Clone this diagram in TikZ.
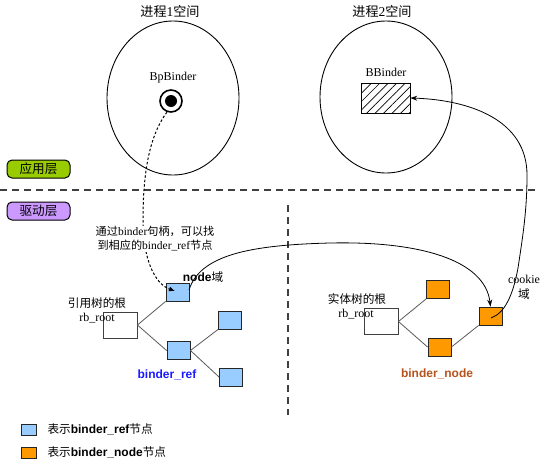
\documentclass[tikz,border=0pt]{standalone}
\usepackage{fontspec}
\setmainfont{Liberation Serif}
\setsansfont{Liberation Sans}
\newfontfamily\cjk[Scale=0.97]{Noto Sans CJK SC}
\newcommand\zh[1]{{\cjk #1}}
\usetikzlibrary{arrows.meta,patterns.meta}
\tikzset{>=latex}
\definecolor{refcol}{HTML}{99CCFF}
\definecolor{nodecol}{HTML}{FF9900}
\definecolor{appcol}{HTML}{99CC00}
\definecolor{drvcol}{HTML}{CC99FF}
\definecolor{refblue}{HTML}{1A1AFF}
\definecolor{nodebrown}{HTML}{B5531C}
\tikzset{
  nbox/.style={draw=black!85,line width=0.9pt,minimum width=23pt,minimum height=18pt,inner sep=0pt},
  refbox/.style={nbox,fill=refcol},
  nodebox/.style={nbox,fill=nodecol},
  rootbox/.style={draw=black!75,line width=0.9pt,minimum width=34pt,minimum height=26pt,inner sep=0pt},
  layer/.style={draw=black,line width=1pt,rounded corners=5pt,minimum width=63pt,minimum height=18pt,inner sep=0pt,
    font=\fontsize{13}{15}\selectfont},
  tline/.style={draw=black!65,line width=0.8pt},
  layersep/.style={black!75,line width=1.1pt,dash pattern=on 7pt off 5pt},
  boldlab/.style={font=\fontsize{12}{14}\selectfont\sffamily\bfseries},
  legbox/.style={draw=black!85,line width=0.9pt,minimum width=15pt,minimum height=11pt,inner sep=0pt},
}

\begin{document}
\begin{tikzpicture}[x=1pt,y=-1pt,font=\fontsize{12}{14}\selectfont]
  \useasboundingbox (0,0) rectangle (553,463);
  % process spaces
  \node[font=\fontsize{13.5}{15}\selectfont] (t1) at (170,11) {\zh{进程}1\zh{空间}};
  \node[font=\fontsize{13.5}{15}\selectfont] (t2) at (382,11) {\zh{进程}2\zh{空间}};
  \draw[line width=0.9pt] (173,98) ellipse [x radius=66, y radius=77];
  \draw[line width=0.9pt] (386,97) ellipse [x radius=66, y radius=76];
  \node (bpl) at (173,78) {BpBinder};
  \node[circle,draw,line width=1.6pt,minimum size=22pt,inner sep=0pt,fill=white] (bp) at (171,101) {};
  \fill (bp.center) circle[radius=6];
  \node (bbl) at (386,72) {BBinder};
  \node[draw,line width=0.9pt,minimum width=49pt,minimum height=30pt,
        pattern={Lines[angle=45,distance=6pt,line width=0.7pt]}] (bb) at (385.5,98) {};

  % layers
  \node[layer,fill=appcol] (app) at (38.5,169) {\zh{应用层}};
  \node[layer,fill=drvcol] (drv) at (38.5,211) {\zh{驱动层}};
  \coordinate (hl) at (0,190);
  \coordinate (hr) at (535,190);
  \draw[layersep] (hl) -- (hr);
  \coordinate (vt) at (288,205);
  \coordinate (vb) at (288,415);
  \draw[layersep] (vt) -- (vb);

  % binder_ref tree
  \node[rootbox] (lroot) at (120,325) {};
  \node (lrl) at (97,303) {\zh{引用树的根}};
  \node (lrr) at (97,318) {rb\_root};
  \node[refbox] (n1) at (177.5,292) {};
  \node[refbox] (n2) at (178.5,350.5) {};
  \node[refbox] (n3) at (230,320) {};
  \node[refbox] (n4) at (231,377) {};
  \draw[tline] (lroot.east) -- (n1.south west);
  \draw[tline] (lroot.east) -- (n2.west);
  \draw[tline] (n2.east) -- (n3.south west);
  \draw[tline] (n2.east) -- (n4.west);
  \node (nodel) at (203,277) {{\sffamily\bfseries node}\zh{域}};
  \node[boldlab,text=refblue] (refl) at (167,375) {binder\_ref};

  % binder_node tree
  \node[rootbox] (rroot) at (381,321.5) {};
  \node (rrl) at (357,299) {\zh{实体树的根}};
  \node (rrr) at (356,314) {rb\_root};
  \node[nodebox] (o1) at (438,289.5) {};
  \node[nodebox] (o2) at (439.5,347) {};
  \node[nodebox] (o3) at (490.5,316) {};
  \draw[tline] (rroot.east) -- (o1.south west);
  \draw[tline] (rroot.east) -- (o2.west);
  \draw[tline] (o2.east) -- (o3.south west);
  \node[boldlab,text=nodebrown] (nodl) at (437,374) {binder\_node};
  \node[align=center,font=\fontsize{12}{15}\selectfont] (ckl) at (524,287) {cookie\\\zh{域}};

  % handle -> binder_ref
  \coordinate (hd) at (175,291);
  \draw[dash pattern=on 2.5pt off 2pt,line width=1pt,-{Latex[length=6pt,width=5pt]}]
    (bp.250) .. controls (150,135) and (143,170) .. (143,220)
    .. controls (143,260) and (155,284) .. (hd);
  \node[fill=white,inner sep=1pt,align=center,font=\fontsize{11.5}{14}\selectfont] (hint) at (155,239)
    {\zh{通过}binder\zh{句柄，可以找}\\\zh{到相应的}binder\_ref\zh{节点}};

  % binder_ref -> binder_node
  \coordinate (rs) at (189,290);
  \draw[line width=0.8pt,-{Stealth[length=7pt,width=5pt]}]
    (rs) .. controls (200,255) and (250,245) .. (330,243)
    .. controls (420,241) and (485,260) .. (o3.north);

  % binder_node -> BBinder
  \coordinate (cs) at (491,318);
  \draw[line width=0.8pt,-{Stealth[length=7pt,width=5pt]}]
    (cs) .. controls (505,313) and (513,295) .. (518,268)
    .. controls (523,235) and (527,210) .. (527,175)
    .. controls (527,120) and (470,100) .. (bb.east);

  % legend
  \node[legbox,fill=refcol] (lg1) at (28.5,429.5) {};
  \node[legbox,fill=nodecol] (lg2) at (28.5,452.5) {};
  \node[anchor=west] (lg1t) at (44,429.5) {\zh{表示}{\sffamily\bfseries binder\_ref}\zh{节点}};
  \node[anchor=west] (lg2t) at (44,452.5) {\zh{表示}{\sffamily\bfseries binder\_node}\zh{节点}};
\end{tikzpicture}
\end{document}
